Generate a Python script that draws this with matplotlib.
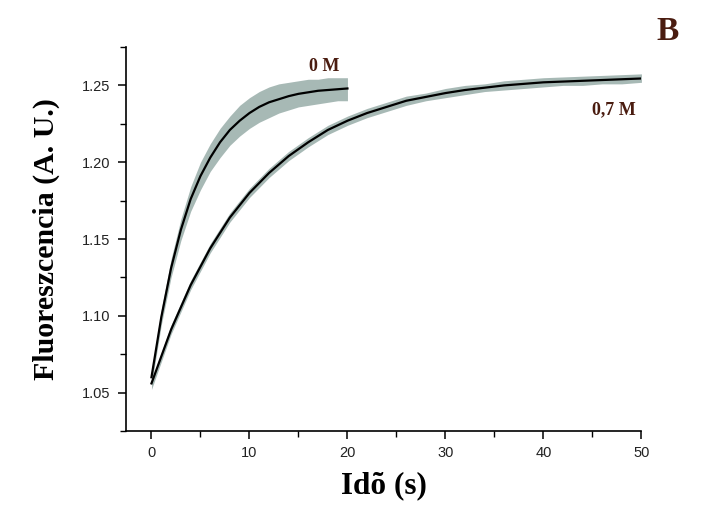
import numpy as np
import matplotlib
matplotlib.use("Agg")
import matplotlib.pyplot as plt
from matplotlib.ticker import MultipleLocator

# Fitted curve, 0 M (1 s steps)
t_0M = [0, 1, 2, 3, 4, 5, 6, 7, 8, 9, 10, 11, 12, 13, 14, 15, 16, 17, 18, 19, 20]
fit_0M = [1.060, 1.099, 1.131, 1.156, 1.176, 1.191, 1.203, 1.213, 1.221, 1.227, 1.232,
          1.236, 1.239, 1.241, 1.243, 1.2445, 1.2455, 1.2465, 1.247, 1.2475, 1.248]
# spread of the measured points around it
upper_0M = [1.064, 1.104, 1.137, 1.163, 1.184, 1.200, 1.212, 1.222, 1.230, 1.237, 1.242,
            1.246, 1.249, 1.251, 1.252, 1.253, 1.254, 1.254, 1.255, 1.255, 1.255]
lower_0M = [1.055, 1.094, 1.125, 1.149, 1.168, 1.182, 1.194, 1.203, 1.211, 1.217, 1.222,
            1.226, 1.229, 1.232, 1.234, 1.236, 1.237, 1.238, 1.239, 1.240, 1.240]

# Fitted curve, 0,7 M (2 s steps)
t_07M = [0, 2, 4, 6, 8, 10, 12, 14, 16, 18, 20, 22, 24, 26, 28, 30, 32, 34, 36, 38, 40,
         42, 44, 46, 48, 50]
fit_07M = [1.056, 1.091, 1.120, 1.144, 1.164, 1.180, 1.193, 1.204, 1.213, 1.221, 1.227,
           1.232, 1.236, 1.240, 1.2425, 1.245, 1.247, 1.2485, 1.250, 1.251, 1.252,
           1.2525, 1.253, 1.2535, 1.254, 1.2545]
upper_07M = [1.058, 1.094, 1.123, 1.147, 1.167, 1.183, 1.196, 1.207, 1.216, 1.224, 1.230,
             1.235, 1.239, 1.243, 1.245, 1.248, 1.250, 1.251, 1.253, 1.254, 1.255,
             1.2555, 1.256, 1.2565, 1.257, 1.2575]
lower_07M = [1.052, 1.088, 1.117, 1.141, 1.161, 1.177, 1.190, 1.201, 1.210, 1.218, 1.224,
             1.229, 1.233, 1.237, 1.240, 1.242, 1.244, 1.246, 1.247, 1.248, 1.249,
             1.250, 1.250, 1.251, 1.251, 1.252]

xticks = [0, 10, 20, 30, 40, 50]
yticks = [1.05, 1.10, 1.15, 1.20, 1.25]

dot_color = '#8aa29d'
label_color = '#4a1c10'
serif = ['Liberation Serif', 'DejaVu Serif']

fig = plt.figure(figsize=(7.09, 5.17), dpi=100)
ax = fig.add_axes([0.1777, 0.1663, 0.727, 0.7428])

# measured points (drawn as their band)
ax.fill_between(t_0M, lower_0M, upper_0M, color=dot_color, alpha=0.75, lw=0)
ax.fill_between(t_07M, lower_07M, upper_07M, color=dot_color, alpha=0.75, lw=0)

# fits
ax.plot(t_0M, fit_0M, color='black', lw=1.6)
ax.plot(t_07M, fit_07M, color='black', lw=1.6)

ax.set_xlim(-2.6, 50)
ax.set_ylim(1.025, 1.275)
ax.set_xticks(xticks)
ax.set_yticks(yticks)
ax.set_yticklabels(['%.2f' % v for v in yticks])
ax.xaxis.set_minor_locator(MultipleLocator(5))
ax.yaxis.set_minor_locator(MultipleLocator(0.025))

for s in ['top', 'right']:
    ax.spines[s].set_visible(False)
for s in ['left', 'bottom']:
    ax.spines[s].set_linewidth(1.2)

ax.tick_params(which='major', direction='out', length=6, width=1.1,
               labelsize=10.5, pad=5)
ax.tick_params(which='minor', direction='out', length=4, width=1.0)
for lab in ax.get_xticklabels() + ax.get_yticklabels():
    lab.set_fontfamily(['Liberation Sans', 'DejaVu Sans'])
    lab.set_color('#222222')

ax.set_xlabel('Idõ (s)', fontsize=22.5, fontweight='bold', family=serif, labelpad=8)
ax.set_ylabel('Fluoreszcencia (A. U.)', fontsize=21.5, fontweight='bold', family=serif,
              labelpad=16)

ax.text(17.6, 1.2625, '0 M', fontsize=13, fontweight='bold', family=serif,
        color=label_color, ha='center', va='center')
ax.text(47.2, 1.234, '0,7 M', fontsize=13, fontweight='bold', family=serif,
        color=label_color, ha='center', va='center')
fig.text(668 / 709, 1 - 32 / 517, 'B', fontsize=24, fontweight='bold', family=serif,
         color=label_color, ha='center', va='center')

fig.savefig('out.png', dpi=100)
